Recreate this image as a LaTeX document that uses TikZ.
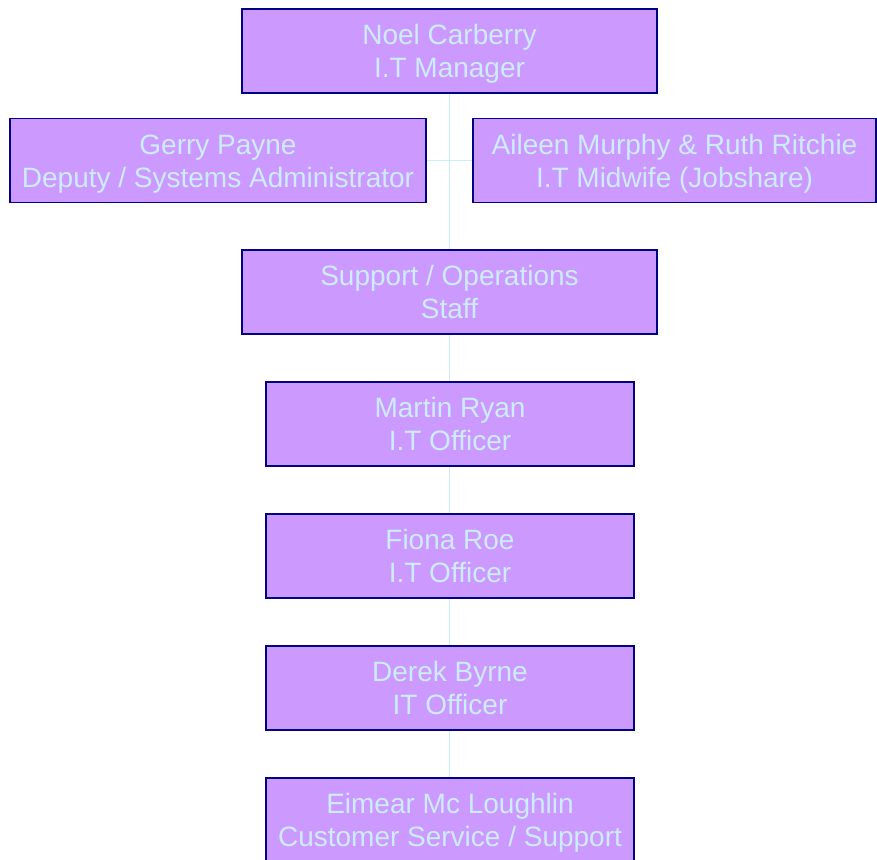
\documentclass[tikz,border=0pt]{standalone}
\usepackage{fontspec}
\setmainfont{Liberation Sans}
\definecolor{boxfill}{HTML}{CC99FF}
\definecolor{boxline}{HTML}{000080}
\definecolor{boxtext}{HTML}{CCECFF}
% name and role, with the same vertical size for every box
\newcommand{\twoline}[2]{\rule{0pt}{20.4pt}\smash{#1}\\\smash{#2}}
\begin{document}
\begin{tikzpicture}[x=1pt,y=-1pt,
  staff/.style={draw=boxline,fill=boxfill,line width=1.5pt,text=boxtext,
    align=center,inner sep=0pt,minimum height=84pt,
    font=\fontsize{28}{33.3}\selectfont},
  link/.style={draw=boxtext,line width=1.5pt}]
  \useasboundingbox (0,0) rectangle (877,859);
  % links first, boxes on top
  \draw[link] (449.5,51)--(449.5,292);
  \draw[link] (218,160.5)--(674.5,160.5);
  \draw[link] (449.5,292)--(449.5,820);
  \node[staff,minimum width=415pt] (noel) at (449.5,51) {\twoline{Noel Carberry}{I.T Manager}};
  \node[staff,minimum width=416pt] (gerry) at (218,160.5) {\twoline{Gerry Payne}{Deputy / Systems Administrator}};
  \node[staff,minimum width=403pt] (aileen) at (674.5,160.5) {\twoline{Aileen Murphy \& Ruth Ritchie}{I.T Midwife (Jobshare)}};
  \node[staff,minimum width=415pt] (ops) at (449.5,292) {\twoline{Support / Operations}{Staff}};
  \node[staff,minimum width=368pt] (martin) at (450,424) {\twoline{Martin Ryan}{I.T Officer}};
  \node[staff,minimum width=368pt] (fiona) at (450,556) {\twoline{Fiona Roe}{I.T Officer}};
  \node[staff,minimum width=368pt] (derek) at (450,688) {\twoline{Derek Byrne}{IT Officer}};
  \node[staff,minimum width=368pt] (eimear) at (450,820) {\twoline{Eimear Mc Loughlin}{Customer Service / Support}};
\end{tikzpicture}
\end{document}
